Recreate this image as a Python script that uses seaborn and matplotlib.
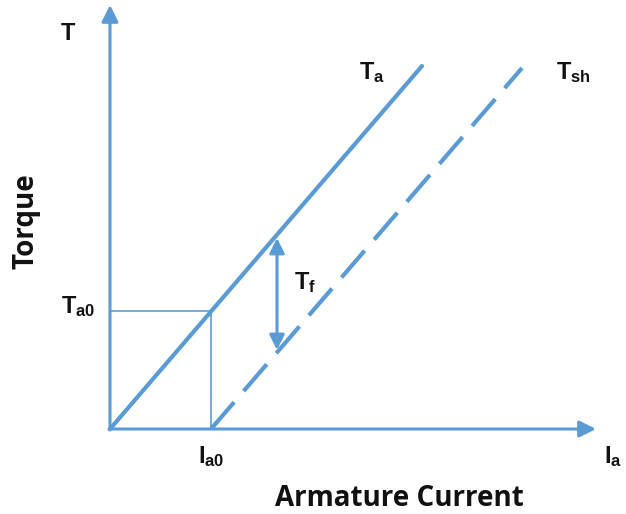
import matplotlib.pyplot as plt
import seaborn as sns
import pandas as pd

# Torque vs armature current characteristic (diagram units)
current_ta = [0, 312]
torque_ta = [0, 363]
current_tsh = [101, 412]
torque_tsh = [0, 361]
ia0 = 101
ta0 = 118
tf_current = 167
tf_top, tf_bottom = 191, 79

blue = "#5B9BD5"

sns.set_style("white")
plt.rcParams["mathtext.fontset"] = "custom"
plt.rcParams["mathtext.rm"] = "Liberation Sans:bold"

fig = plt.figure(figsize=(6.26, 5.14), dpi=100)
ax = fig.add_axes([0, 0, 1, 1])

lines = pd.DataFrame({
    "Ia": current_ta + current_tsh,
    "T": torque_ta + torque_tsh,
    "curve": ["Ta", "Ta", "Tsh", "Tsh"],
})
sns.lineplot(data=lines[lines["curve"] == "Ta"], x="Ia", y="T", color=blue,
             lw=3, ax=ax, estimator=None, sort=False)
sns.lineplot(data=lines[lines["curve"] == "Tsh"], x="Ia", y="T", color=blue,
             lw=3, ax=ax, estimator=None, sort=False, dashes=False,
             linestyle=(0, (8.5, 3.5)))

# guide lines at Ia0 / Ta0
ax.plot([0, ia0], [ta0, ta0], color=blue, lw=1.2)
ax.plot([ia0, ia0], [0, ta0], color=blue, lw=1.2)

# axes arrows
ax.annotate("", xy=(0, 424), xytext=(0, -1),
            arrowprops=dict(arrowstyle="-|>,head_length=1.0,head_width=0.5",
                            color=blue, lw=2.2, shrinkA=0, shrinkB=0))
ax.annotate("", xy=(486, 0), xytext=(-1, 0),
            arrowprops=dict(arrowstyle="-|>,head_length=1.0,head_width=0.5",
                            color=blue, lw=2.2, shrinkA=0, shrinkB=0))
# Tf double arrow
ax.annotate("", xy=(tf_current, tf_top), xytext=(tf_current, tf_bottom),
            arrowprops=dict(arrowstyle="<|-|>,head_length=0.9,head_width=0.45",
                            color=blue, lw=2.2, shrinkA=0, shrinkB=0))

txt = dict(color="#111111", fontsize=17)
ax.text(-42, 396, r"$\mathrm{T}$", ha="center", va="center", **txt)
ax.text(262, 356, r"$\mathrm{T_a}$", ha="center", va="center", **txt)
ax.text(463, 356, r"$\mathrm{T_{sh}}$", ha="center", va="center", **txt)
ax.text(195, 146, r"$\mathrm{T_f}$", ha="center", va="center", **txt)
ax.text(-32, 122, r"$\mathrm{T_{a0}}$", ha="center", va="center", **txt)
ax.text(ia0, -28, r"$\mathrm{I_{a0}}$", ha="center", va="center", **txt)
ax.text(494, -28, r"$\mathrm{I_a}$", ha="left", va="center", **txt)

ax.text(289, -69, "Armature Current", ha="center", va="center",
        fontsize=20, fontweight="bold", family="Open Sans", color="#111111")
ax.text(-84, 208, "Torque", ha="center", va="center", rotation=90,
        fontsize=20, fontweight="bold", family="Open Sans", color="#111111")

ax.set_xlim(-110, 516)
ax.set_ylim(-85, 429)
ax.axis("off")
if ax.get_legend():
    ax.get_legend().remove()

fig.savefig("out.png", dpi=100)
